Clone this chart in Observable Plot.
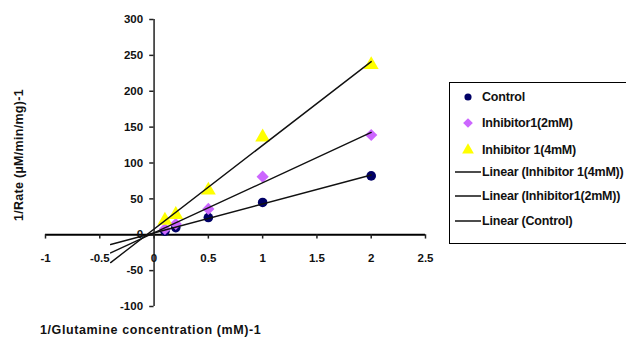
<!DOCTYPE html>
<html><head><meta charset="utf-8">
<script src="https://cdn.jsdelivr.net/npm/d3@7"></script>
<script src="https://cdn.jsdelivr.net/npm/@observablehq/plot@0.6"></script>
<style>
html,body{margin:0;padding:0;background:#fff;overflow:hidden;width:626px;height:343px;}
#wrap{position:relative;width:626px;height:343px;font-family:"Liberation Sans",Arial,sans-serif;font-weight:bold;color:#111;}
#legend{position:absolute;left:449px;top:82px;width:200px;height:162px;border:1.5px solid #000;box-sizing:border-box;background:#fff;}
.row{position:absolute;left:0;height:20px;display:flex;align-items:center;font-size:12.5px;white-space:nowrap;letter-spacing:-0.2px;}
.row svg{display:block;flex:none;}
#ytitle{position:absolute;left:19px;top:155px;transform:translate(-50%,-50%) rotate(-90deg);font-size:12.5px;letter-spacing:0.3px;white-space:nowrap;}
#xtitle{position:absolute;left:40px;top:323px;font-size:12.5px;letter-spacing:0.6px;white-space:nowrap;}
</style></head>
<body><div id="wrap"><div id="chart"></div><div id="ytitle"></div><div id="xtitle"></div><div id="legend"></div></div>
<script>
const xValues = [0.1, 0.2, 0.5, 1, 2];
const seriesNames = ["Control", "Inhibitor1(2mM)", "Inhibitor 1(4mM)"];
const controlValues = [5, 10, 24, 45, 82];
const inhibitor2Values = [8, 15, 36, 81, 139];
const inhibitor4Values = [20, 28, 62, 136, 237];
const xTicks = [-1, -0.5, 0, 0.5, 1, 1.5, 2, 2.5];
const yTicks = [-100, -50, 0, 50, 100, 150, 200, 250, 300];
const trendNames = ["Linear (Inhibitor 1(4mM))", "Linear (Inhibitor1(2mM))", "Linear (Control)"];
const xTitle = "1/Glutamine concentration (mM)-1";
const yTitle = "1/Rate (µM/min/mg)-1";
const trendStart = -0.4;

const colors = ["#000066", "#cc66ff", "#ffff00"];
const symbols = ["circle", "diamond2", "triangle"];
const radii = [4.8, 5.5, 5.5];
const seriesValues = [controlValues, inhibitor2Values, inhibitor4Values];

const points = seriesValues.flatMap((vals, s) => vals.map((v, i) => ({series: seriesNames[s], s, x: xValues[i], y: v})));

function fit(xs, ys) {
  const mx = d3.mean(xs), my = d3.mean(ys);
  const sxy = d3.sum(xs, (x, i) => (x - mx) * (ys[i] - my));
  const sxx = d3.sum(xs, x => (x - mx) ** 2);
  const b = sxy / sxx;
  return {b, a: my - b * mx};
}
const trendPts = seriesValues.flatMap((vals, s) => {
  const {a, b} = fit(xValues, vals);
  const x1 = d3.max(xValues);
  return [{s, x: trendStart, y: a + b * trendStart}, {s, x: x1, y: a + b * x1}];
});

const chart = Plot.plot({
  width: 626, height: 343,
  marginLeft: 45, marginRight: 201, marginTop: 19, marginBottom: 37,
  x: {domain: [-1, 2.5], axis: null},
  y: {domain: [-100, 300], axis: null},
  style: {fontFamily: '"Liberation Sans", Arial, sans-serif', fontWeight: "bold", fontSize: "11px", background: "#fff"},
  marks: [
    Plot.ruleY([0], {x1: -1, x2: 2.5, stroke: "#000", strokeWidth: 2}),
    Plot.ruleX([0], {y1: -100, y2: 300, stroke: "#222", strokeWidth: 1.5}),
    Plot.ruleX(xTicks, {x: d => d, y1: 0, y2: -6, stroke: "#222", strokeWidth: 1.5}),
    Plot.ruleY(yTicks, {y: d => d, x1: -0.04, x2: 0, stroke: "#222", strokeWidth: 1.5}),
    Plot.text(xTicks, {x: d => d, y: 0, dy: 24, text: d => String(d), fill: "#111", fontSize: 11.5, letterSpacing: "-0.5px"}),
    Plot.text(yTicks, {x: 0, y: d => d, dx: -11, textAnchor: "end", text: d => String(d), fill: "#111", fontSize: 11.5, letterSpacing: "-0.5px"}),
    ...[0, 1, 2].map(s => Plot.dot(points.filter(d => d.s === s), {x: "x", y: "y", symbol: symbols[s], r: radii[s], fill: colors[s], stroke: "none"})),
    Plot.line(trendPts, {x: "x", y: "y", z: "s", stroke: "#111", strokeWidth: 1.4})
  ]
});
document.getElementById("chart").appendChild(chart);
document.getElementById("xtitle").textContent = xTitle;
document.getElementById("ytitle").textContent = yTitle;

const legend = document.getElementById("legend");
const rowTops = [4, 30, 57, 79, 103, 128];
const legendItems = [
  ...seriesNames.map((n, s) => ({label: n, kind: "dot", s})),
  ...trendNames.map(n => ({label: n, kind: "line"}))
];
legendItems.forEach((it, i) => {
  const row = document.createElement("div");
  row.className = "row";
  row.style.top = rowTops[i] + "px";
  let svg;
  if (it.kind === "dot") {
    const sym = d3.symbol(it.s === 0 ? d3.symbolCircle : it.s === 1 ? d3.symbolDiamond2 : d3.symbolTriangle, it.s === 0 ? 40 : 60)();
    svg = `<svg width="32" height="20"><path d="${sym}" transform="translate(18,10)" fill="${colors[it.s]}"/></svg>`;
  } else {
    svg = `<svg width="32" height="20"><line x1="5" x2="31" y1="10" y2="10" stroke="#111" stroke-width="1.5"/></svg>`;
  }
  row.innerHTML = svg + `<span>${it.label}</span>`;
  legend.appendChild(row);
});
</script></body></html>
